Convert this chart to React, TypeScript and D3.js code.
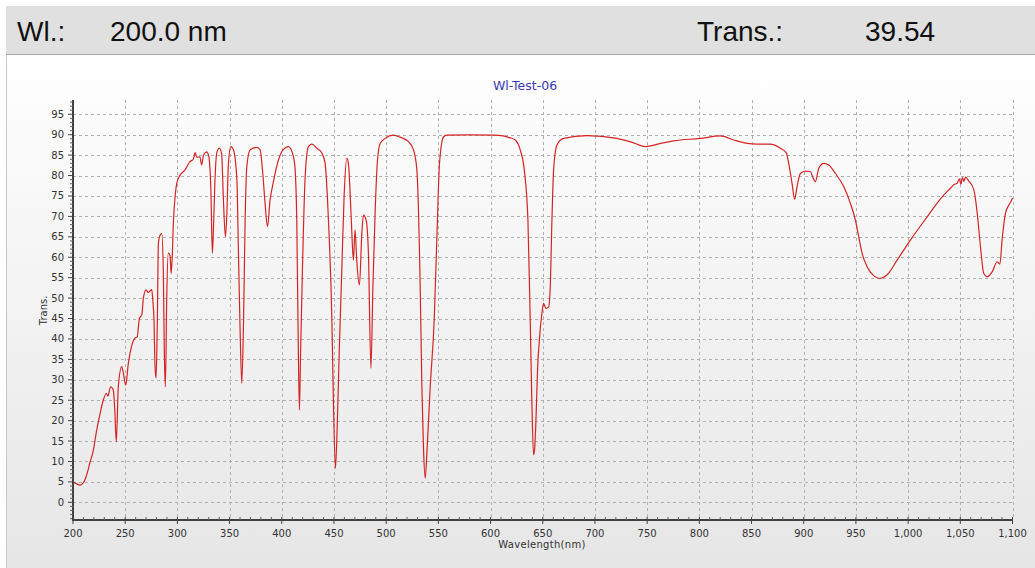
import React from "react";
import * as d3 from "d3";

const wavelengths: number[] = [
  200, 203, 206.7, 209, 211.5, 214, 216, 219.5, 222.7, 226, 229, 232, 233.5, 236, 238.6, 240, 241.5, 243.4,
  246.7, 248, 250.5, 253, 256, 259.3, 261.5, 263.6, 266, 267.4, 270, 272, 274, 275.4, 276.5, 277.6, 278.6,
  279.6, 280.8, 281.8, 283.4, 285, 286.5, 287.5, 288.5, 289.8, 291.3, 293, 294, 295.2, 296, 297.8, 299.4,
  302.6, 307.4, 312, 315.3, 317, 318.5, 321.5, 323.3, 325, 328, 330, 332, 333.5, 334.4, 336, 337.7, 340.2,
  342.4, 344, 346, 347.3, 348.9, 351.2, 353.7, 357, 358.5, 360, 361.7, 363.4, 364.9, 366.5, 369.7, 376,
  379.3, 381.8, 384, 386.3, 388.8, 392, 396.8, 401.6, 406.4, 411.2, 412.8, 414.4, 415.7, 416.9, 418, 420,
  422.4, 425.5, 428.8, 433.6, 438.4, 441.5, 444.7, 448, 449.5, 451.4, 453.3, 455, 457.5, 459.7, 462.3,
  463.8, 465.5, 467, 468.6, 470.2, 471.8, 474.4, 476.7, 478.3, 480.8, 483, 485.4, 487.3, 489.5, 491.7,
  494.3, 499, 507, 513.4, 521.4, 526.2, 529.4, 532.6, 534.2, 535.8, 537.4, 539, 542.2, 546, 548.6, 551.1,
  555, 558, 580, 602.8, 612, 618, 623.7, 628.4, 632.3, 635.8, 638, 639.6, 641.2, 642.2, 643.5, 645, 647, 649.2,
  650.8, 653, 655.6, 657.2, 658.8, 660.4, 663.6, 670, 692.4, 721, 735, 748.3, 762, 775.4, 801, 820, 832.9, 845.7,
  855.3, 868, 877.6, 883.4, 885.6, 888.8, 891.3, 893.6, 896.8, 901.6, 906.4, 908.5, 911.2, 914.4, 919.2,
  924, 930.4, 938.3, 944.7, 949.5, 952.7, 955.9, 960.7, 967, 972.8, 979.9, 989.5, 1002.2, 1018.3, 1032.6,
  1040.6, 1044, 1047, 1049, 1050.5, 1052, 1053.4, 1055, 1058, 1063, 1066.2, 1069.3, 1072.5, 1075.7,
  1080.5, 1085.3, 1087.9, 1090, 1093.3, 1096.5, 1099.2, 1100,
];

const transmission: number[] = [
  5.0, 4.6, 4.2, 4.5, 5.5, 7.5, 9.5, 12.8, 17.7, 21.8, 25, 26.7, 26, 28.3, 27.5, 22.6, 14.8, 28.3,
  33.2, 32, 28.7, 34, 38.1, 40.2, 40.5, 45, 46, 50, 52, 51.4, 51.8, 52.1, 49.4, 44.6, 33.2,
  30.4, 44.6, 63.4, 65.4, 65.8, 56.9, 36.5, 28.3, 50.3, 61, 60.4, 56, 61, 67.5, 74.8, 78.1,
  80.1, 81.4, 83.4, 84, 85.6, 84.5, 84.6, 82.6, 85.0, 85.8, 84.8, 77.3, 61, 65.8, 78.9, 85.5, 86.7,
  85.3, 74.8, 65, 70, 83, 87.1, 86.3, 78.9, 61, 43, 29.1, 44.6, 69.1, 82.2, 86.3, 86.9,
  86.3, 80.5, 73.2, 67.5, 74, 78.5, 83.8, 86.4, 87.1, 84.6, 81.4, 68.3, 40.5, 22.6, 36.5, 59.3,
  79.7, 87.1, 87.7, 86.7, 85.5, 83, 69.1, 44.6, 24.2, 8.3, 20.2, 36.5, 56.9, 74.8, 84.2,
  83.0, 75.7, 66.7, 59.3, 66.7, 59.3, 53.2, 65.9, 70.3, 69.1, 61, 32.8, 52.8, 71.6, 83.8,
  87.9, 89.1, 89.9, 89.4, 88.3, 86.3, 81.4, 52.8, 28.3, 12.8, 5.9, 12, 28.3, 44.6, 65, 83,
  89.5, 89.9, 89.95, 89.9, 89.7, 89.3, 88.7, 86.3, 81.4, 69.1, 44.6, 24.2, 11.6, 13, 20.2, 32.4, 40.5, 46.3,
  48.7, 47.5, 47.8, 52.8, 69.1, 81.4, 87.5, 89.1, 89.8, 89.1, 88.2, 87.1, 87.8, 88.5, 89.1, 89.7, 88.7, 87.9,
  87.7, 87.7, 86.7, 85.5, 83, 78.1, 74.2, 77.3, 80.5, 81.1, 81, 79.7, 78.5, 81.8, 83,
  82.6, 80.5, 77.3, 73.2, 69.1, 65, 61, 57.7, 55.5, 54.8, 55.7, 59.3, 64.2, 69.9, 74.8,
  76.9, 77.8, 78.1, 79.2, 77.9, 79.5, 78.6, 79.6, 78.7, 76.5, 70.8, 62.6, 56, 55.2,
  56.4, 58.9, 58.3, 64.2, 70.8, 72.8, 74, 74.5,
];

const xTicks: number[] = [200, 250, 300, 350, 400, 450, 500, 550, 600, 650, 700, 750, 800, 850, 900, 950, 1000, 1050, 1100];
const yTicks: number[] = [0, 5, 10, 15, 20, 25, 30, 35, 40, 45, 50, 55, 60, 65, 70, 75, 80, 85, 90, 95];

const headerLabelWl = "Wl.:";
const headerValueWl = "200.0 nm";
const headerLabelTrans = "Trans.:";
const headerValueTrans = "39.54";
const chartTitle = "Wl-Test-06";
const xAxisTitle = "Wavelength(nm)";
const yAxisTitle = "Trans.";

export default function App() {
  const W = 1035;
  const H = 568;
  const x = d3.scaleLinear().domain([200, 1100]).range([73, 1012.5]);
  const y = d3.scaleLinear().domain([-4.33, 98.5]).range([520, 100]);
  const pts: [number, number][] = wavelengths.map((w, i) => [w, transmission[i]]);
  const line = d3
    .line<[number, number]>()
    .x((d) => x(d[0]))
    .y((d) => y(d[1]))
    .curve(d3.curveMonotoneX);
  const minorX = d3.range(200, 1101, 10).filter((v) => v % 50 !== 0);
  const minorY = d3.range(-4, 99, 1).filter((v) => v % 5 !== 0);
  const x0 = x(200);
  const x1 = x(1100);
  const yb = y(-4.33);
  const yt = y(98.5);
  const fnt = "'DejaVu Sans', Verdana, sans-serif";
  const fmt = d3.format(",");

  return (
    <svg width={W} height={H} style={{ position: "absolute", left: 0, top: 0, display: "block" }}>
      <defs>
        <linearGradient id="panelGrad" x1="0" y1="0" x2="0" y2="1">
          <stop offset="0" stopColor="#ffffff" />
          <stop offset="1" stopColor="#e6e6e6" />
        </linearGradient>
      </defs>
      <rect x={0} y={0} width={W} height={H} fill="#ffffff" />
      <rect x={6} y={6} width={W - 6} height={48} fill="#e0e0e0" />
      <line x1={6} y1={54.5} x2={W} y2={54.5} stroke="#a8a8a8" strokeWidth={1} />
      <text x={17} y={41} fontFamily="'Liberation Sans', Arial, sans-serif" fontSize={28} fill="#111">{headerLabelWl}</text>
      <text x={110} y={41} fontFamily="'Liberation Sans', Arial, sans-serif" fontSize={28} fill="#111">{headerValueWl}</text>
      <text x={697} y={41} fontFamily="'Liberation Sans', Arial, sans-serif" fontSize={28} fill="#111">{headerLabelTrans}</text>
      <text x={865} y={41} fontFamily="'Liberation Sans', Arial, sans-serif" fontSize={28} fill="#111">{headerValueTrans}</text>
      <rect x={7} y={55} width={W - 7} height={H - 55} fill="url(#panelGrad)" />
      <line x1={6.5} y1={55} x2={6.5} y2={H} stroke="#c8c8c8" strokeWidth={1} />
      <text x={525} y={90} textAnchor="middle" fontFamily={fnt} fontSize={12.5} fill="#3a3ab4">{chartTitle}</text>
      {xTicks.slice(1).map((t) => (
        <line key={"gx" + t} x1={Math.round(x(t)) + 0.5} x2={Math.round(x(t)) + 0.5} y1={yt} y2={yb} stroke="#b0b0b0" strokeWidth={1} strokeDasharray="3,3" />
      ))}
      {yTicks.map((t) => (
        <line key={"gy" + t} x1={x0} x2={x1} y1={Math.round(y(t)) + 0.5} y2={Math.round(y(t)) + 0.5} stroke="#b0b0b0" strokeWidth={1} strokeDasharray="3,3" />
      ))}
      <path d={line(pts) || ""} fill="none" stroke="#d42424" strokeWidth={1.2} strokeLinejoin="round" />
      <line x1={x0} x2={x0} y1={yt} y2={yb + 1} stroke="#404040" strokeWidth={2} />
      <line x1={x0 - 1} x2={x1} y1={yb} y2={yb} stroke="#404040" strokeWidth={2} />
      {minorY.map((t) => (
        <line key={"my" + t} x1={x0 - 3} x2={x0} y1={y(t)} y2={y(t)} stroke="#606060" strokeWidth={1} />
      ))}
      {yTicks.map((t) => (
        <g key={"ty" + t}>
          <line x1={x0 - 5} x2={x0} y1={y(t)} y2={y(t)} stroke="#404040" strokeWidth={1} />
          <text x={x0 - 9} y={y(t)} dy="0.35em" textAnchor="end" fontFamily={fnt} fontSize={10} fill="#333">{t}</text>
        </g>
      ))}
      {minorX.map((t) => (
        <line key={"mx" + t} x1={x(t)} x2={x(t)} y1={yb - 3} y2={yb} stroke="#606060" strokeWidth={1} />
      ))}
      {xTicks.map((t) => (
        <g key={"tx" + t}>
          <line x1={x(t)} x2={x(t)} y1={yb - 3} y2={yb + 4} stroke="#404040" strokeWidth={1} />
          <text x={x(t)} y={yb + 17} textAnchor="middle" fontFamily={fnt} fontSize={10} fill="#333">{fmt(t)}</text>
        </g>
      ))}
      <text x={542} y={548} textAnchor="middle" fontFamily={fnt} fontSize={10} fill="#333" letterSpacing={0.3}>{xAxisTitle}</text>
      <text transform={`translate(47,${y(47)}) rotate(-90)`} textAnchor="middle" fontFamily={fnt} fontSize={10} fill="#333">{yAxisTitle}</text>
    </svg>
  );
}
